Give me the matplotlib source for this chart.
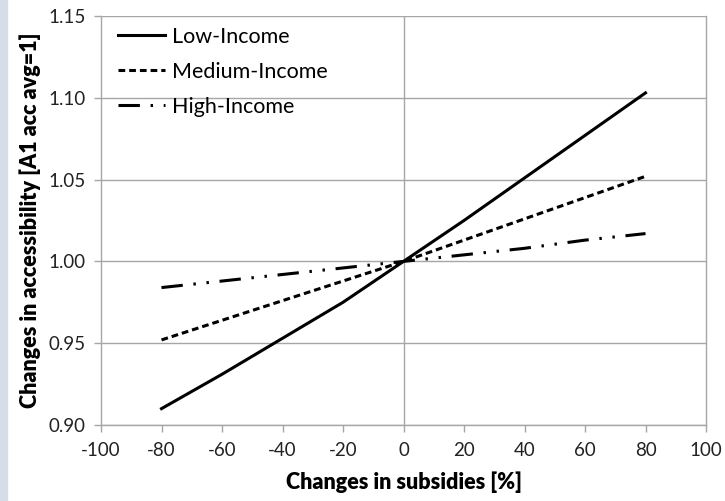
import matplotlib.pyplot as plt
import matplotlib
from matplotlib.patches import Rectangle

matplotlib.rcParams.update({'font.family': ['Lato', 'DejaVu Sans']})

subsidy = [-80, -60, -40, -20, 0, 20, 40, 60, 80]
low_income = [0.910, 0.931, 0.953, 0.975, 1.000, 1.025, 1.051, 1.077, 1.103]
medium_income = [0.952, 0.964, 0.976, 0.988, 1.000, 1.013, 1.026, 1.039, 1.052]
high_income = [0.984, 0.988, 0.992, 0.996, 1.000, 1.004, 1.008, 1.013, 1.017]

xticks = [-100, -80, -60, -40, -20, 0, 20, 40, 60, 80, 100]
yticks = [0.90, 0.95, 1.00, 1.05, 1.10, 1.15]

fig = plt.figure()
fig.set_size_inches(7.25, 5.01)
# pale strip on the left edge
fig.patches.append(Rectangle((0, 0), 7/725, 1, transform=fig.transFigure,
                             color='#d5dde7', zorder=0))
ax = fig.add_axes([101/725, 76/501, 605/725, 409/501])

grid_c = '#a6a6a6'
for y in yticks:
    ax.axhline(y, color=grid_c, lw=1.0, zorder=1)
ax.axvline(0, color=grid_c, lw=1.0, zorder=1)

ax.plot(subsidy, low_income, '-', color='black', lw=2.2, label='Low-Income', zorder=3)
ax.plot(subsidy, medium_income, color='black', lw=2.2, dashes=(2.2, 1.3),
        label='Medium-Income', zorder=3)
ax.plot(subsidy, high_income, color='black', lw=2.2, dashes=(7, 3.5, 0.8, 3.5, 0.8, 3.5),
        label='High-Income', zorder=3)

ax.set_xlim(-100, 100)
ax.set_ylim(0.90, 1.15)
ax.set_xticks(xticks)
ax.set_yticks(yticks)
ax.set_xticklabels([str(t) for t in xticks])
ax.set_yticklabels(['%.2f' % t for t in yticks])
ax.tick_params(axis='both', direction='out', length=5, color=grid_c, width=1.0,
               labelsize=13.5, labelcolor='#222222')
ax.tick_params(axis='x', pad=7)
ax.tick_params(axis='y', pad=6)
ax.spines['top'].set_visible(False)
for s in ['left', 'bottom', 'right']:
    ax.spines[s].set_color(grid_c)
    ax.spines[s].set_linewidth(1.0)

ax.set_xlabel('Changes in subsidies [%]', fontsize=15.5, fontweight='heavy', labelpad=9)
ax.set_ylabel('Changes in accessibility [A1 acc avg=1]', fontsize=15.5, fontweight='heavy',
              labelpad=5)

ax.legend(loc='upper left', frameon=False, fontsize=15.5, handlelength=2.2,
          handletextpad=0.3, labelspacing=0.7, borderaxespad=0.1,
          bbox_to_anchor=(0.01, 1.0))

plt.savefig('out.png', dpi=100)
